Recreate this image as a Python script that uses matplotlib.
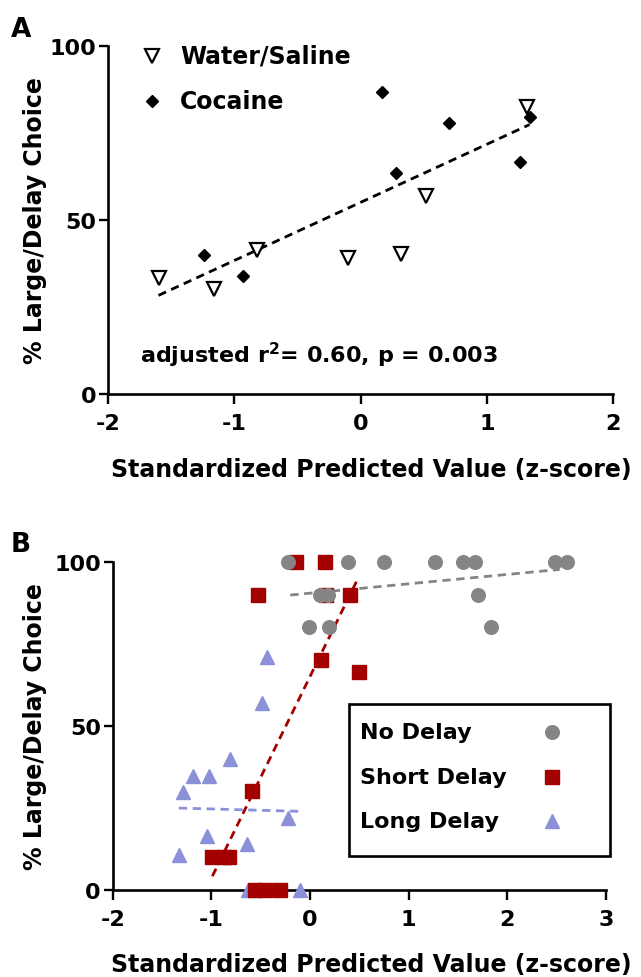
import matplotlib
matplotlib.use("Agg")
import matplotlib.pyplot as plt
import numpy as np
from matplotlib.patches import Rectangle

plt.rcParams['font.family'] = ['DejaVu Sans']
plt.rcParams['font.weight'] = 'bold'
plt.rcParams['mathtext.fontset'] = 'dejavusans'
plt.rcParams['mathtext.default'] = 'bf'

# ---------------- Panel A data ----------------
water_x = [-1.60, -1.16, -0.82, -0.10, 0.32, 0.515, 1.32]
water_y = [33.4, 30.1, 41.5, 39.2, 40.1, 56.8, 82.4]
cocaine_x = [-1.24, -0.93, 0.17, 0.28, 0.70, 1.26, 1.34]
cocaine_y = [39.8, 33.9, 86.8, 63.5, 77.8, 66.8, 79.6]
fitA_range = [-1.60, 1.34]
fitA_slope = 16.7
fitA_intercept = 55.05
A_xticks = [-2, -1, 0, 1, 2]
A_yticks = [0, 50, 100]

# ---------------- Panel B data ----------------
no_x = [-0.22, 0.39, 0.75, 1.27, 1.55, 1.67, 2.48, 2.60, 0.10, 0.185, 1.70,
        -0.01, 0.19, 1.83]
no_y = [100, 100, 100, 100, 100, 100, 100, 100, 90, 90, 90, 80, 80, 80]
short_x = [-0.14, 0.15, -0.525, 0.16, 0.404, 0.107, 0.495, -0.592,
           -0.997, -0.87, -0.82, -0.558, -0.46, -0.30]
short_y = [100, 100, 90, 90, 90, 70, 66.5, 30, 10, 10, 10, 0, 0, 0]
long_x = [-0.44, -0.484, -0.808, -1.19, -1.02, -1.288, -0.221, -1.048,
          -0.639, -1.33, -0.63, -0.10]
long_y = [71.0, 56.8, 39.8, 34.8, 34.8, 29.9, 21.9, 16.3, 13.9, 10.7, 0, 0]
fit_no = dict(range=[-0.20, 2.53], slope=2.86, intercept=90.4)
fit_short = dict(range=[-0.99, 0.47], slope=61.5, intercept=65.0)
fit_long = dict(range=[-1.33, -0.11], slope=-0.82, intercept=23.8)
B_xticks = [-2, -1, 0, 1, 2, 3]
B_yticks = [0, 50, 100]
groups_B = ['No Delay', 'Short Delay', 'Long Delay']

GRAY = '#858585'
RED = '#a30000'
BLUE = '#8c90d8'

W, H = 641, 978
fig = plt.figure(figsize=(W / 100, H / 100), dpi=100)

TICK_FS = 16
LAB_FS = 17


def style_axes(ax, xt, yt):
    for s in ['top', 'right']:
        ax.spines[s].set_visible(False)
    for s in ['left', 'bottom']:
        ax.spines[s].set_linewidth(1.9)
    ax.set_xticks(xt)
    ax.set_yticks(yt)
    ax.set_xticklabels([str(t) for t in xt], fontweight='bold')
    ax.set_yticklabels([str(t) for t in yt], fontweight='bold')
    ax.tick_params(axis='x', direction='out', length=7, width=1.7,
                   labelsize=TICK_FS, pad=7)
    ax.tick_params(axis='y', direction='out', length=6.5, width=1.7,
                   labelsize=TICK_FS, pad=2)


# ---------------- Panel A ----------------
axA = fig.add_axes([108 / W, 1 - 395 / H, (613 - 108) / W, (395 - 47) / H])
axA.set_xlim(-2, 2)
axA.set_ylim(0, 100)
style_axes(axA, A_xticks, A_yticks)
xs = np.array(fitA_range)
axA.plot(xs, fitA_slope * xs + fitA_intercept, color='black', lw=2.0,
         dashes=(3.0, 2.0), zorder=2)
axA.plot(water_x, water_y, linestyle='none', marker='v', ms=9.5,
         mfc='white', mec='black', mew=1.6, zorder=3)
axA.plot(cocaine_x, cocaine_y, linestyle='none', marker='D', ms=6.5,
         color='black', zorder=3)
# legend (manual placement)
axA.plot([0.0865], [0.972], transform=axA.transAxes, marker='v', ms=9.5,
         mfc='white', mec='black', mew=1.6, clip_on=False, linestyle='none')
axA.plot([0.0865], [0.843], transform=axA.transAxes, marker='D', ms=6.5,
         color='black', clip_on=False, linestyle='none')
axA.text(0.1426, 0.972, 'Water/Saline', transform=axA.transAxes,
         fontsize=LAB_FS, fontweight='bold', va='center', ha='left')
axA.text(0.1426, 0.843, 'Cocaine', transform=axA.transAxes,
         fontsize=LAB_FS, fontweight='bold', va='center', ha='left')
axA.text(0.063, 0.092, 'adjusted r$^{2}$= 0.60, p = 0.003', transform=axA.transAxes,
         fontsize=16, fontweight='bold', va='baseline', ha='left')
axA.set_xlabel('Standardized Predicted Value (z-score)', fontsize=LAB_FS,
               fontweight='bold', va='center')
axA.xaxis.set_label_coords((371 - 108) / 505, (395 - 470) / 348)
axA.set_ylabel('% Large/Delay Choice', fontsize=LAB_FS, fontweight='bold',
               va='center')
axA.yaxis.set_label_coords((35 - 108) / 505, 0.5)

# ---------------- Panel B ----------------
axB = fig.add_axes([112.7 / W, 1 - 890.7 / H, (606 - 112.7) / W, (890.7 - 562.7) / H])
axB.set_xlim(-2, 3)
axB.set_ylim(0, 100)
style_axes(axB, B_xticks, B_yticks)
for fit, col in [(fit_no, GRAY), (fit_short, RED), (fit_long, BLUE)]:
    xs = np.array(fit['range'])
    axB.plot(xs, fit['slope'] * xs + fit['intercept'], color=col, lw=2.0,
             dashes=(3.0, 2.0), zorder=2)
axB.plot(long_x, long_y, linestyle='none', marker='^', ms=9.5, color=BLUE,
         zorder=3, clip_on=False)
axB.plot(short_x, short_y, linestyle='none', marker='s', ms=9.5, color=RED,
         zorder=4, clip_on=False)
axB.plot(no_x, no_y, linestyle='none', marker='o', ms=9.8, color=GRAY,
         zorder=5, clip_on=False)

# legend box (manual placement to match left-aligned text / right markers)
axB.add_patch(Rectangle((0.479, 0.103), 1.008 - 0.479, 0.566 - 0.103,
                        transform=axB.transAxes, facecolor='white',
                        edgecolor='black', lw=1.9, clip_on=False, zorder=6))
leg_y = [0.481, 0.344, 0.209]
leg_style = [dict(marker='o', ms=9.8, color=GRAY),
             dict(marker='s', ms=9.5, color=RED),
             dict(marker='^', ms=9.5, color=BLUE)]
for name, yy, st in zip(groups_B, leg_y, leg_style):
    axB.text(0.501, yy, name, transform=axB.transAxes, fontsize=16,
             fontweight='bold', va='center', ha='left', zorder=7)
    axB.plot([0.890], [yy], transform=axB.transAxes, linestyle='none',
             clip_on=False, zorder=7, **st)

axB.set_xlabel('Standardized Predicted Value (z-score)', fontsize=LAB_FS,
               fontweight='bold', va='center')
axB.xaxis.set_label_coords((371 - 112.7) / 493.3, (890.7 - 965) / 328)
axB.set_ylabel('% Large/Delay Choice', fontsize=LAB_FS, fontweight='bold',
               va='center')
axB.yaxis.set_label_coords((35 - 112.7) / 493.3, 0.5)

fig.text(11 / W, 1 - 30 / H, 'A', fontsize=19, fontweight='bold', va='center')
fig.text(11 / W, 1 - 545 / H, 'B', fontsize=19, fontweight='bold', va='center')

fig.savefig('out.png', dpi=100)
